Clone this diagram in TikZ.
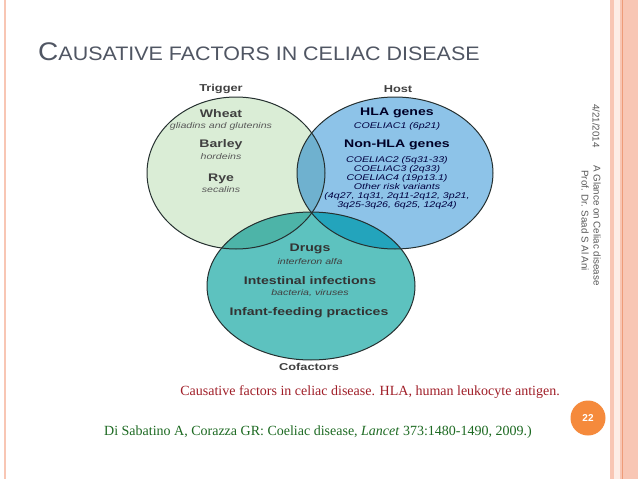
\documentclass[tikz,border=0pt]{standalone}
\usepackage{fontspec}
\setmainfont{Liberation Sans}
\newfontfamily\capfont{Liberation Serif}

\definecolor{trig}{HTML}{DAEDD6}
\definecolor{host}{HTML}{8DC3E8}
\definecolor{trighost}{HTML}{6FB1CF}
\definecolor{cofac}{HTML}{5DC2BF}
\definecolor{coftrig}{HTML}{4DB4A8}
\definecolor{cofhost}{HTML}{23A4BC}
\definecolor{rim}{HTML}{253030}
\definecolor{labgray}{HTML}{404040}
\definecolor{titlegray}{HTML}{505663}
\definecolor{peach}{HTML}{F8C6B4}
\definecolor{palepeach}{HTML}{FDEDE6}
\definecolor{edgeorange}{HTML}{EE9B78}
\definecolor{pageorange}{HTML}{F58A3C}
\definecolor{capred}{HTML}{A01E28}
\definecolor{citegreen}{HTML}{1D6A22}

\begin{document}
\begin{tikzpicture}[x=1pt,y=-1pt,
	lab/.style={font=\bfseries\fontsize{10}{12}\selectfont,text=labgray,xscale=1.28},
	itm/.style={font=\bfseries\fontsize{11}{13}\selectfont,xscale=1.28},
	sub/.style={font=\itshape\fontsize{8.3}{9}\selectfont,xscale=1.28,align=center},
	venn/.style={draw=rim,line width=1pt}]
	\useasboundingbox (0,0) rectangle (638,479);
	\fill[white] (0,0) rectangle (638,479);
	% slide borders
	\fill[peach] (4,0) rectangle (6,479);
	\fill[peach] (610,0) rectangle (614,479);
	\fill[palepeach] (614,0) rectangle (620,479);
	\fill[peach] (620,0) rectangle (638,479);
	\draw[edgeorange,line width=1pt] (622.5,0) -- (622.5,479);
	% title
	\node[anchor=base west,text=titlegray,inner sep=0pt,xscale=1.1] (title) at (38,60)
		{{\fontsize{25.5}{26}\selectfont C}{\fontsize{19.5}{20}\selectfont AUSATIVE FACTORS IN CELIAC DISEASE}};
	% circles
	\fill[trig] (236,173) ellipse [x radius=89pt,y radius=76pt];
	\fill[host] (395,173) ellipse [x radius=98pt,y radius=76pt];
	\begin{scope}
		\clip (236,173) ellipse [x radius=89pt,y radius=76pt];
		\fill[trighost] (395,173) ellipse [x radius=98pt,y radius=76pt];
	\end{scope}
	\fill[cofac] (311,286) ellipse [x radius=104pt,y radius=74pt];
	\begin{scope}
		\clip (311,286) ellipse [x radius=104pt,y radius=74pt];
		\fill[coftrig] (236,173) ellipse [x radius=89pt,y radius=76pt];
		\fill[cofhost] (395,173) ellipse [x radius=98pt,y radius=76pt];
	\end{scope}
	\draw[venn] (236,173) ellipse [x radius=89pt,y radius=76pt];
	\draw[venn] (395,173) ellipse [x radius=98pt,y radius=76pt];
	\draw[venn] (311,286) ellipse [x radius=104pt,y radius=74pt];
	% trigger
	\node[lab] (trigger) at (221,89) {Trigger};
	\node[itm,text=labgray] (wheat) at (221,114) {Wheat};
	\node[sub,text=black!65] (glia) at (221,126) {gliadins and glutenins};
	\node[itm,text=labgray] (barley) at (221,145) {Barley};
	\node[sub,text=black!65] (hord) at (221,157) {hordeins};
	\node[itm,text=labgray] (rye) at (221,179) {Rye};
	\node[sub,text=black!65] (seca) at (221,190) {secalins};
	% host
	\node[lab] (hostlab) at (398,89) {Host};
	\node[itm,text=black!85!blue] (hla) at (397,113) {HLA genes};
	\node[sub,text=black!75!blue] (c1) at (397,126) {COELIAC1 (6p21)};
	\node[itm,text=black!85!blue] (nonhla) at (397,145) {Non-HLA genes};
	\node[sub,text=black!75!blue,anchor=north] (loci) at (397,152.5)
		{COELIAC2 (5q31-33)\\COELIAC3 (2q33)\\COELIAC4 (19p13.1)\\Other risk variants\\(4q27, 1q31, 2q11-2q12, 3p21,\\3q25-3q26, 6q25, 12q24)};
	% cofactors
	\node[itm,text=black!80] (drugs) at (310,249) {Drugs};
	\node[sub,text=black!75] (ifn) at (310,262) {interferon alfa};
	\node[itm,text=black!80] (infect) at (310,281) {Intestinal infections};
	\node[sub,text=black!75] (bact) at (310,293) {bacteria, viruses};
	\node[itm,text=black!80] (infant) at (309,313) {Infant-feeding practices};
	\node[lab] (cofactors) at (309,367) {Cofactors};
	% captions
	\node[font=\capfont\fontsize{14}{16}\selectfont,text=capred] (caption) at (370,392)
		{Causative factors in celiac disease. HLA, human leukocyte antigen.};
	\node[font=\capfont\fontsize{14}{16}\selectfont,text=citegreen] (cite) at (318,432)
		{Di Sabatino A, Corazza GR: Coeliac disease, \textit{Lancet} 373:1480-1490, 2009.)};
	% side texts
	\begin{scope}[every node/.style={rotate=-90,anchor=west,text=black!65,font=\fontsize{9.8}{11}\selectfont,inner sep=0pt}]
	\node (date) at (596,104) {4/21/2014};
	\node (course) at (597,165) {A Glance on Celiac disease};
	\node (prof) at (585,170) {Prof. Dr. Saad S Al Ani};
	\end{scope}
	\node[circle,fill=pageorange,minimum size=35pt,inner sep=0pt,text=white,font=\bfseries\fontsize{10}{10}\selectfont] (page) at (588,418) {22};
\end{tikzpicture}
\end{document}
